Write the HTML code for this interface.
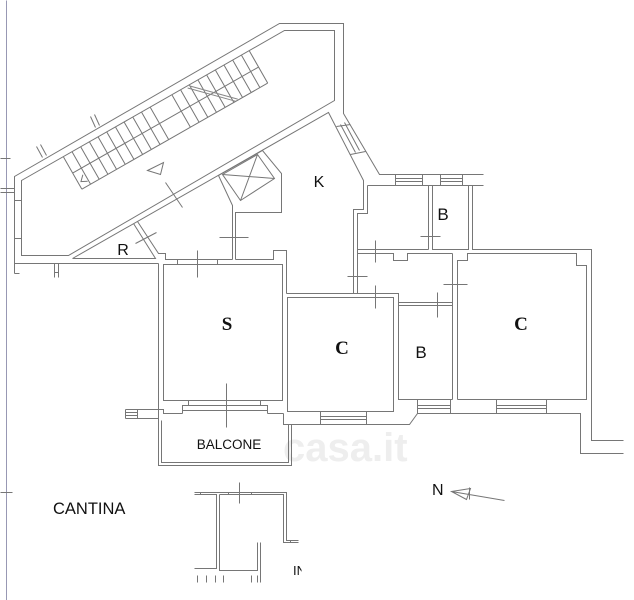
<!DOCTYPE html>
<html><head><meta charset="utf-8"><style>
html,body{margin:0;padding:0;background:#fff;}
svg{display:block;}
text{font-family:"Liberation Sans",sans-serif;fill:#111;stroke:none;}
.sf{font-family:"Liberation Serif",serif;font-weight:bold;}
</style></head><body>
<svg width="634" height="600" viewBox="0 0 634 600" xmlns="http://www.w3.org/2000/svg">
<defs><clipPath id="cl"><rect x="280" y="550" width="21.5" height="40"/></clipPath></defs>
<text x="283" y="461" font-size="40" font-weight="bold" style="fill:#eeeeee">casa.it</text>
<g transform="translate(0.5,0.5)" fill="none" stroke="#767676" stroke-width="1">
<!-- margin line -->
<line x1="6" y1="0" x2="6" y2="600" stroke="#9898b4"/>
<path d="M0 158H10 M0 188H14 M0 192H14 M0 492H12 M14 200H21 M14 238H21"/>

<!-- stair corridor -->
<polyline points="14,273 14,176 279,23 343,23 343,113 379,174 483,174"/>
<polygon points="21,255 21,180 284,30 334,30 334,100 68,255"/>
<polyline points="72,258 328,112 363,180 363,209 353,209 353,293"/>
<path d="M36,146 L42,157 M40,144 L46,155 M90,116 L95,127 M94,114 L99,125"/>
<path d="M14,263 H158 M14,273 H19 M54,263 V277 M58,263 V277 M54,272 H58"/>

<!-- stairs -->
<g transform="translate(63,156.5) rotate(-29.7)">
<path d="M0 0V37 M10 0V37 M20 0V37 M30 0V37 M40 0V37 M50 0V37 M60 0V37 M70 0V37 M80 0V37 M90 0V37 M100 0V37 M125 0V37 M135 0V37 M145 0V37 M155 0V37 M165 0V37 M175 0V37 M185 0V37 M195 0V37 M205 0V37 M214 0V37 M0 37H214 M0 18.5H214"/>
<path d="M142 1.6L177 36.7 M145 1 L180 36" stroke="#888"/>
<path d="M8 25 L3 30 L9 33"/>
</g>
<polygon points="147,170 163,162 160,174"/>

<!-- R -->
<polyline points="72,258 155,258 133,223"/>
<polyline points="137,221 158,253 165,253 165,259 232,259"/>
<line x1="135" y1="243" x2="156" y2="232"/>
<!-- hall door -->
<line x1="165" y1="182" x2="182" y2="207"/>

<!-- shaft -->
<polyline points="218,175 262,150 281,173 281,212 235,212 235,259"/>
<polyline points="218,175 232,205 232,259"/>
<polygon points="222,174 257,154 274,178 240,200"/>
<path d="M222,174 L274,178 M257,154 L240,200"/>
<line x1="219" y1="237" x2="248" y2="237"/>

<!-- K / S junction -->
<polyline points="235,259 273,259 273,250 286,250 286,293"/>

<!-- S room -->
<rect x="163" y="264" width="119" height="136"/>
<line x1="158" y1="263" x2="158" y2="418"/>
<path d="M197 250V277 M177 259V264 M217 259V264"/>
<path d="M182,413 V405 H188 V400 M260,400 V405 H267 V413 M182,405 H267 M182,410 H267"/>
<path d="M125,409 H163 V413 H182 M125,418 H158 M125,409 V418 M137,409 V418 M125,412 H137 M125,415 H137"/>
<path d="M267,413 H283"/>
<line x1="226" y1="383" x2="226" y2="427"/>

<!-- balcone -->
<path d="M158,418 V465 H291 V424"/>
<path d="M161,420 V462 H288 V424"/>

<!-- middle C -->
<path d="M286,293 H398 V302 H452"/>
<rect x="287" y="297" width="106" height="114"/>
<path d="M283,413 V424 H409 L417,413 H580 V453 H623"/>
<path d="M320,411 V424 M366,411 V424 M320,416 H366 M320,419 H366"/>
<line x1="375" y1="285" x2="375" y2="308"/>

<!-- lower B -->
<path d="M398,302 V399 H452 M398,305 H452"/>
<path d="M417,399 V413 M450,399 V413 M417,405 H450 M417,408 H450"/>
<line x1="437" y1="292" x2="437" y2="317"/>

<!-- corridor -->
<line x1="452" y1="253" x2="452" y2="399"/>
<path d="M357,253 H393 V260 H407 V253 H452"/>
<line x1="357" y1="249" x2="357" y2="293"/>
<line x1="347" y1="276" x2="367" y2="276"/>
<line x1="375" y1="240" x2="375" y2="262"/>
<line x1="443" y1="284" x2="467" y2="284"/>

<!-- big C -->
<polyline points="457,399 457,260 467,260 467,253 576,253 576,265 586,265 586,399 457,399"/>
<polyline points="472,185 472,249 591,249 591,440 623,440"/>
<path d="M496,399 V413 M546,399 V413 M496,405 H546 M496,408 H546"/>

<!-- upper rooms right -->
<polyline points="367,185 367,213 357,213 357,249 428,249"/>
<path d="M367,185 H483"/>
<path d="M428,185 V249 M432,185 V249 H468 V185"/>
<path d="M395,174 V185 M422,174 V185 M395,178 H422 M395,181 H422 M440,174 V185 M462,174 V185 M440,178 H462 M440,181 H462"/>
<line x1="420" y1="236" x2="440" y2="236"/>

<!-- K window -->
<path d="M336,126 L350,124 M340,124 L355,152 M344,122 L359,150 M350,154 L365,151"/>

<!-- cantina block -->
<path d="M194,492 H286 V540 H298 M194,494 H216 V568 H194 M219,494 H283 V542 H298"/>
<path d="M219,494 V570 H257 V542 M260,542 V582 M257,575 V582"/>
<path d="M239,482 V503 M200,492 V494 M228,492 V494 M251,492 V494 M290,540 V542"/>
<path d="M197,575 V582 M206,575 V582 M215,575 V582 M223,575 V582 M251,575 V582"/>

<!-- north arrow -->
<path d="M451,491 L504,500 M451,491 L470,488 L466,499 Z M469,487 V499"/>
</g>

<text x="319" y="187" font-size="16" text-anchor="middle">K</text>
<text x="443" y="220" font-size="17" text-anchor="middle">B</text>
<text x="123" y="255" font-size="16" text-anchor="middle">R</text>
<text class="sf" x="227" y="330" font-size="19" text-anchor="middle">S</text>
<text class="sf" x="342" y="354" font-size="19" text-anchor="middle">C</text>
<text x="421" y="358" font-size="17" text-anchor="middle">B</text>
<text class="sf" x="521" y="330" font-size="19" text-anchor="middle">C</text>
<text x="229" y="449" font-size="13.5" text-anchor="middle">BALCONE</text>
<text x="53" y="514" font-size="16.5">CANTINA</text>
<text x="432" y="495" font-size="16">N</text>
<text x="293" y="575" font-size="13" clip-path="url(#cl)">IN</text>
</svg>
</body></html>
